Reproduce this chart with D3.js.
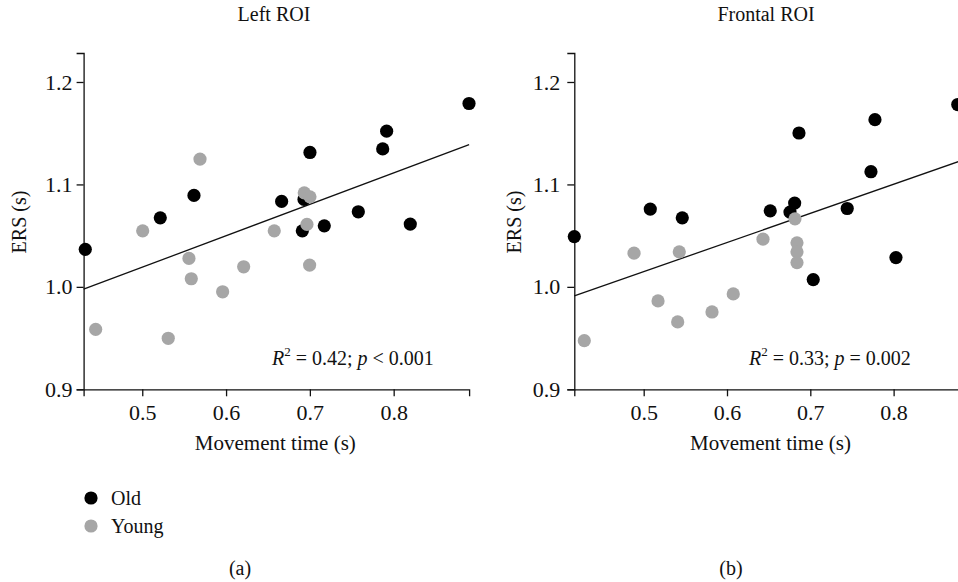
<!DOCTYPE html>
<html>
<head>
<meta charset="utf-8">
<script src="https://cdn.jsdelivr.net/npm/d3@7/dist/d3.min.js"></script>
<style>
  body { margin: 0; background: #fff; }
  svg text { font-family: "Liberation Serif", "DejaVu Serif", serif; fill: #111; }
</style>
</head>
<body>
<svg id="chart" width="958" height="582"></svg>
<script>
// Movement time (s) and ERS (s) per participant, Left ROI
const leftOldMT   = [0.432, 0.5215, 0.5617, 0.6663, 0.691, 0.693, 0.7001, 0.7172, 0.7578, 0.7869, 0.7916, 0.8198, 0.8899];
const leftOldERS  = [1.0366, 1.0674, 1.0893, 1.0834, 1.0547, 1.0854, 1.1312, 1.0596, 1.0733, 1.1347, 1.152, 1.0613, 1.179];
const leftYoungMT  = [0.4444, 0.5005, 0.531, 0.5557, 0.5585, 0.5689, 0.5959, 0.621, 0.6575, 0.6933, 0.7001, 0.6965, 0.6997];
const leftYoungERS = [0.9585, 1.0547, 0.9498, 1.0278, 1.0079, 1.1247, 0.9952, 1.0196, 1.0547, 1.0918, 1.0879, 1.061, 1.0213];

// Frontal ROI
const frontOldMT   = [0.4167, 0.5079, 0.5463, 0.6519, 0.6756, 0.6812, 0.6864, 0.7035, 0.7443, 0.7728, 0.7776, 0.8028, 0.877];
const frontOldERS  = [1.0491, 1.0759, 1.0674, 1.0742, 1.073, 1.0818, 1.1502, 1.0071, 1.0765, 1.1124, 1.1632, 1.0286, 1.178];
const frontYoungMT  = [0.4287, 0.4884, 0.5172, 0.5408, 0.5427, 0.582, 0.6075, 0.6432, 0.6816, 0.684, 0.684, 0.684];
const frontYoungERS = [0.9475, 1.0329, 0.9863, 0.9658, 1.0342, 0.9755, 0.9931, 1.0466, 1.0664, 1.043, 1.0342, 1.0237];

// Linear fits: [intercept, slope]
const leftFit  = [0.8658, 0.3068];
const frontFit = [0.8727, 0.2843];

const xTicks = [0.5, 0.6, 0.7, 0.8];
const yTicks = [0.9, 1.0, 1.1, 1.2];
const groups = ["Old", "Young"];
const groupColors = ["#000000", "#a6a6a6"];

const svg = d3.select("#chart");

const panels = [
  { title: "Left ROI", tag: "(a)", oldX: leftOldMT, oldY: leftOldERS, youngX: leftYoungMT, youngY: leftYoungERS,
    fit: leftFit, stat: ["0.42", "<", "0.001"],
    xDom: [0.43, 0.89], xRange: [83.6, 469.1], yDom: [0.9, 1.2283], yRange: [389.3, 53],
    yLabelX: 20, tickPad: 4, titleX: 274, tagX: 240, statX: 272 },
  { title: "Frontal ROI", tag: "(b)", oldX: frontOldMT, oldY: frontOldERS, youngX: frontYoungMT, youngY: frontYoungERS,
    fit: frontFit, stat: ["0.33", "=", "0.002"],
    xDom: [0.4167, 0.89], xRange: [574.3, 968.6], yDom: [0.9, 1.2283], yRange: [389.3, 53],
    yLabelX: 515, tickPad: 7, titleX: 766, tagX: 731, statX: 749 }
];

panels.forEach(p => {
  const x = d3.scaleLinear().domain(p.xDom).range(p.xRange);
  const y = d3.scaleLinear().domain(p.yDom).range(p.yRange);
  const g = svg.append("g");

  // axes
  const xAxis = d3.axisBottom(x).tickValues(xTicks).tickFormat(d3.format(".1f"))
    .tickSizeOuter(0).tickSize(7).tickPadding(8);
  const yAxis = d3.axisLeft(y).tickValues(yTicks).tickFormat(d3.format(".1f"))
    .tickSizeOuter(0).tickSize(7).tickPadding(p.tickPad);

  const gx = g.append("g").attr("transform", `translate(0,${y(0.9)})`).call(xAxis);
  const gy = g.append("g").attr("transform", `translate(${x(p.xDom[0])},0)`).call(yAxis);
  [gx, gy].forEach(a => {
    a.selectAll("path, line").attr("stroke", "#111").attr("stroke-width", 1.3);
    a.selectAll("text").attr("font-size", 22).attr("fill", "#111")
      .style("font-family", '"Liberation Serif", serif');
  });

  // regression line across the x range
  const [b0, b1] = p.fit;
  g.append("line")
    .attr("x1", x(p.xDom[0])).attr("y1", y(b0 + b1 * p.xDom[0]))
    .attr("x2", x(p.xDom[1])).attr("y2", y(b0 + b1 * p.xDom[1]))
    .attr("stroke", "#111").attr("stroke-width", 1.3);

  // points: old drawn first, young on top
  const old = p.oldX.map((v, i) => [v, p.oldY[i]]);
  const young = p.youngX.map((v, i) => [v, p.youngY[i]]);
  g.selectAll("circle.old").data(old).join("circle").attr("class", "old")
    .attr("cx", d => x(d[0])).attr("cy", d => y(d[1])).attr("r", 6.6).attr("fill", groupColors[0]);
  g.selectAll("circle.young").data(young).join("circle").attr("class", "young")
    .attr("cx", d => x(d[0])).attr("cy", d => y(d[1])).attr("r", 6.6).attr("fill", groupColors[1]);

  // titles and labels
  g.append("text").attr("x", p.titleX).attr("y", 21).attr("text-anchor", "middle")
    .attr("font-size", 20).text(p.title);
  g.append("text").attr("x", (p.xRange[0] + p.xRange[1]) / 2 - 1).attr("y", 450).attr("text-anchor", "middle")
    .attr("font-size", 21).text("Movement time (s)");
  g.append("text").attr("transform", `translate(${p.yLabelX + 6},222) rotate(-90)`)
    .attr("text-anchor", "middle").attr("font-size", 20).text("ERS (s)");
  g.append("text").attr("x", p.tagX).attr("y", 575).attr("text-anchor", "middle")
    .attr("font-size", 20).text(p.tag);

  const st = g.append("text").attr("x", p.statX).attr("y", 365).attr("font-size", 20);
  st.append("tspan").attr("font-style", "italic").text("R");
  st.append("tspan").attr("font-size", 13).attr("dy", -9).text("2");
  st.append("tspan").attr("dy", 9).text(` = ${p.stat[0]}; `);
  st.append("tspan").attr("font-style", "italic").text("p");
  st.append("tspan").text(` ${p.stat[1]} ${p.stat[2]}`);
});

// legend
const legend = svg.append("g");
groups.forEach((name, i) => {
  legend.append("circle").attr("cx", 91).attr("cy", 498 + i * 28).attr("r", 6.6).attr("fill", groupColors[i]);
  legend.append("text").attr("x", 111).attr("y", 498 + i * 28).attr("dy", "0.35em")
    .attr("font-size", 20).text(name);
});
</script>
</body>
</html>
